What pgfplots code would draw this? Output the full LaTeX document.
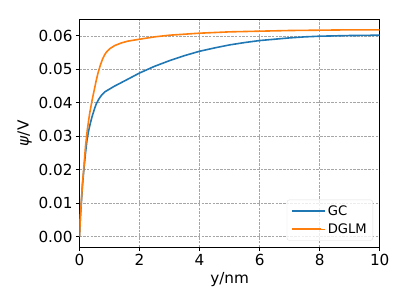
\documentclass[border=0pt]{standalone}
\usepackage{fontspec}
\setmainfont{DejaVu Sans}
\usepackage{pgfplots}
\pgfplotsset{compat=1.18}
\definecolor{tabblue}{HTML}{1F77B4}
\definecolor{taborange}{HTML}{FF7F0E}
\begin{document}
\begin{tikzpicture}
\path[use as bounding box] (-79.5bp,-58bp) rectangle (327.5bp,247bp);
\begin{axis}[
  scale only axis,
  width=300.2bp, height=227.5bp,
  xmin=0, xmax=10,
  ymin=-0.00309, ymax=0.06489,
  xtick={0,2,4,6,8,10},
  ytick={0,0.01,0.02,0.03,0.04,0.05,0.06},
  scaled y ticks=false,
  yticklabel style={/pgf/number format/.cd, fixed, fixed zerofill, precision=2},
  /pgf/number format/assume math mode=true,
  tick label style={font=\fontsize{15.3}{18}\selectfont},
  label style={font=\fontsize{15.3}{18}\selectfont},
  tick align=outside,
  tick pos=left,
  major tick length=3.5bp,
  every tick/.style={black, line width=0.8bp},
  axis line style={black, line width=0.8bp},
  grid=major,
  major grid style={gray!70, dash pattern=on 2.5bp off 1.2bp, line width=0.6bp},
  xlabel={y/nm},
  ylabel={{\itshape ψ}/V},
  legend cell align=left,
  legend style={at={(1,0)}, anchor=south east, xshift=-6.7bp, yshift=6.3bp,
    font=\fontsize{13.2}{15}\selectfont, draw=gray!25, rounded corners=2.5bp,
    fill=white, fill opacity=0.8, text opacity=1, row sep=3.2bp,
    inner xsep=4bp, inner ysep=3.5bp},
  legend image code/.code={\draw[#1, line width=2bp, opacity=1] (0bp,0bp) -- (29bp,0bp); \path (0bp,0bp) -- (33bp,0bp);},
]
\addplot[tabblue, line width=1.6bp] coordinates {
(0,0) (0.03,0.006) (0.06,0.010) (0.1,0.0155) (0.15,0.0205) (0.2,0.025) (0.25,0.0289)
(0.31,0.0319) (0.37,0.0342) (0.42,0.0359) (0.5,0.0382) (0.56,0.0397) (0.65,0.0412)
(0.73,0.0422) (0.85,0.0433) (1.0,0.0441) (1.15,0.0449) (1.3,0.0456) (1.62,0.0471)
(2,0.0489) (2.5,0.0509) (3,0.0526) (3.5,0.0541) (4,0.0554) (4.5,0.0564) (5,0.0573)
(5.5,0.0580) (6,0.0586) (6.5,0.0590) (7,0.0594) (7.5,0.0597) (8,0.0599) (9,0.0601) (10,0.0602)
};
\addlegendentry{GC}
\addplot[taborange, line width=1.6bp] coordinates {
(0,0) (0.03,0.006) (0.06,0.0105) (0.1,0.016) (0.15,0.0212) (0.2,0.027) (0.26,0.0319)
(0.34,0.0369) (0.42,0.0408) (0.5,0.0442) (0.56,0.0468) (0.62,0.0490) (0.7,0.0514)
(0.77,0.0531) (0.84,0.0544) (0.92,0.0554) (1.0,0.0561) (1.17,0.0571) (1.4,0.0579) (1.6,0.0584) (2,0.0590)
(2.5,0.0597) (3,0.0602) (4,0.0608) (5,0.0612) (6,0.0614) (7,0.0616) (8,0.0617) (9,0.0618) (10,0.0618)
};
\addlegendentry{DGLM}
\end{axis}
\end{tikzpicture}
\end{document}
